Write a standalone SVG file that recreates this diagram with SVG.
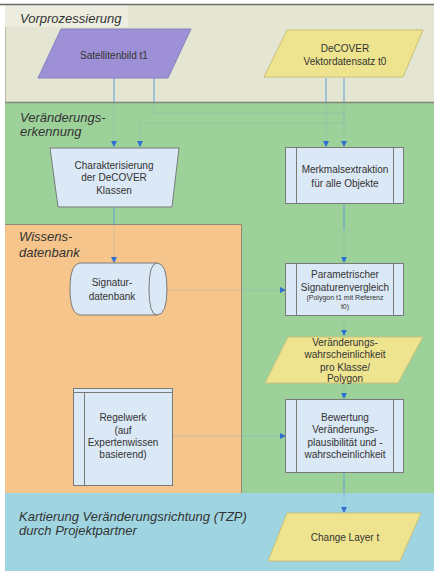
<svg xmlns="http://www.w3.org/2000/svg" width="434" height="571" viewBox="0 0 434 571">
<style>
.lbl{font-family:"Liberation Sans",Arial,sans-serif;font-style:italic;font-size:13px;fill:#333}
.t{font-family:"Liberation Sans",Arial,sans-serif;font-size:10px;fill:#333;text-anchor:middle}
.ts{font-family:"Liberation Sans",Arial,sans-serif;font-size:7px;fill:#333;text-anchor:middle}
.proc{fill:#dbe8f5;stroke:#7a7a7a;stroke-width:1}
.inner{fill:none;stroke:#7a7a7a;stroke-width:1}
.purple{fill:#9d90d6;stroke:#8a80bd;stroke-width:1}
.yellow{fill:#eee48f;stroke:#c9c07a;stroke-width:1}
.edge{fill:none;stroke:#5d9fd3;stroke-width:1}
.faint{stroke-opacity:0.18}
.arr{marker-end:url(#ah)}
</style>
<defs>
<marker id="ah" viewBox="0 0 6 6" refX="6" refY="3" markerWidth="6" markerHeight="6" markerUnits="userSpaceOnUse" orient="auto">
<path d="M0,0 L6,3 L0,6 Z" fill="#2e6fd1"/>
</marker>
</defs>
<rect x="0" y="0" width="434" height="571" fill="#ffffff"/>
<g id="bands">
<rect x="5" y="5" width="429" height="97" fill="#e4e5d2"/>
<rect x="5" y="5" width="123" height="22" fill="#ededdf"/>
<line x1="0" y1="4.5" x2="434" y2="4.5" stroke="#6a6a66" stroke-width="1.5"/>
<line x1="5.5" y1="27" x2="5.5" y2="102" stroke="#b8b9a8" stroke-width="1"/>
<rect x="5" y="102" width="429" height="391" fill="#9dd19a"/>
<line x1="5" y1="102.5" x2="434" y2="102.5" stroke="#7f877a" stroke-width="1.5"/>
<rect x="5" y="224" width="236" height="269" fill="#f6c58b"/>
<path d="M5,224.5 H241.5 V493" fill="none" stroke="#8f8a78" stroke-width="1"/>
<rect x="5" y="493" width="429" height="78" fill="#9fd5e1"/>
<text class="lbl" x="20" y="23">Vorprozessierung</text>
<text class="lbl" x="20" y="122">Veränderungs-</text>
<text class="lbl" x="20" y="136">erkennung</text>
<text class="lbl" x="19" y="241">Wissens-</text>
<text class="lbl" x="19" y="257">datenbank</text>
<text class="lbl" x="19" y="521">Kartierung Veränderungsrichtung (TZP)</text>
<text class="lbl" x="19" y="535">durch Projektpartner</text>
</g>
<g id="connectors">
<path class="edge" d="M114,78 V102"/>
<path class="edge faint arr" d="M114,102 V147"/>
<path class="edge" d="M154,78 V102"/>
<path class="edge faint arr" d="M154,102 V113 H344 V147"/>
<path class="edge" d="M326,78 V102"/>
<path class="edge faint arr" d="M326,102 V147"/>
<path class="edge" d="M344,78 V102"/>
<path class="edge faint arr" d="M344,102 V123 H140 V147"/>
<path class="edge" d="M114,207 V225"/>
<path class="edge faint arr" d="M114,225 V263"/>
<path class="edge" d="M344,203 V230"/>
<path class="edge faint arr" d="M344,230 V263"/>
<path class="edge faint arr" d="M167,290 H286"/>
<path class="edge faint arr" d="M344,315 V336"/>
<path class="edge faint arr" d="M344,383 V399"/>
<path class="edge arr" d="M173,436 H286" stroke-opacity="0.3"/>
<path class="edge" d="M344,473 V494"/>
<path class="edge faint arr" d="M344,494 V513"/>
</g>
<g id="satellitenbild">
<polygon class="purple" points="61,29 191,29 168,78 38,78"/>
<text class="t" x="114" y="58.5">Satellitenbild t1</text>
</g>
<g id="decover">
<polygon class="yellow" points="287,30 423,30 403,77 264,77"/>
<text class="t" x="345" y="51.5">DeCOVER</text>
<text class="t" x="345" y="65">Vektordatensatz t0</text>
</g>
<g id="charakterisierung">
<polygon class="proc" points="50,148 179,148 172,207 58,207"/>
<text class="t" x="114" y="168.5" font-size="9.5">Charakterisierung</text>
<text class="t" x="114" y="181" font-size="9.5">der DeCOVER</text>
<text class="t" x="114" y="193.5" font-size="9.5">Klassen</text>
</g>
<g id="merkmalsextraktion">
<rect class="proc" x="285.5" y="147.5" width="118" height="56"/>
<path class="inner" d="M296.5,147.5 V203.5 M393.5,147.5 V203.5"/>
<text class="t" x="345" y="172.5">Merkmalsextraktion</text>
<text class="t" x="345" y="186.5">für alle Objekte</text>
</g>
<g id="signaturdatenbank">
<path class="proc" d="M81,263 H157 Q167,263 167,289 Q167,315 157,315 H81 Q70,315 70,289 Q70,263 81,263 Z"/>
<path class="inner" d="M157,263 Q149,263 149,289 Q149,315 157,315"/>
<text class="t" x="112" y="286">Signatur-</text>
<text class="t" x="112" y="299.5">datenbank</text>
</g>
<g id="parametrischer">
<rect class="proc" x="285.5" y="263.5" width="118" height="52"/>
<path class="inner" d="M296.5,263.5 V315.5 M393.5,263.5 V315.5"/>
<text class="t" x="345" y="277.5">Parametrischer</text>
<text class="t" x="345" y="290.5">Signaturenvergleich</text>
<text class="ts" x="345" y="299.5">(Polygon t1 mit Referenz</text>
<text class="ts" x="345" y="308.5">t0)</text>
</g>
<g id="wahrscheinlichkeit">
<polygon class="yellow" points="288,337 423,337 398,383 265,383"/>
<text class="t" x="345" y="345.5">Veränderungs-</text>
<text class="t" x="345" y="358">wahrscheinlichkeit</text>
<text class="t" x="345" y="370.5">pro Klasse/</text>
<text class="t" x="345" y="382">Polygon</text>
</g>
<g id="regelwerk">
<rect class="proc" x="73.5" y="388.5" width="99" height="97"/>
<path class="inner" d="M84.5,392.5 V485.5 M73.5,392.5 H172.5"/>
<text class="t" x="123" y="420.5">Regelwerk</text>
<text class="t" x="123" y="433.5">(auf</text>
<text class="t" x="123" y="445.5">Expertenwissen</text>
<text class="t" x="123" y="457.5">basierend)</text>
</g>
<g id="bewertung">
<rect class="proc" x="285.5" y="399.5" width="118" height="73"/>
<path class="inner" d="M296.5,399.5 V472.5 M393.5,399.5 V472.5"/>
<text class="t" x="345" y="420.5">Bewertung</text>
<text class="t" x="345" y="432.5">Veränderungs-</text>
<text class="t" x="345" y="445.5">plausibilität und -</text>
<text class="t" x="345" y="457.5">wahrscheinlichkeit</text>
</g>
<g id="changelayer">
<polygon class="yellow" points="287,513 421,513 400,561 268,561"/>
<text class="t" x="345" y="540.5">Change Layer t</text>
</g>
</svg>
